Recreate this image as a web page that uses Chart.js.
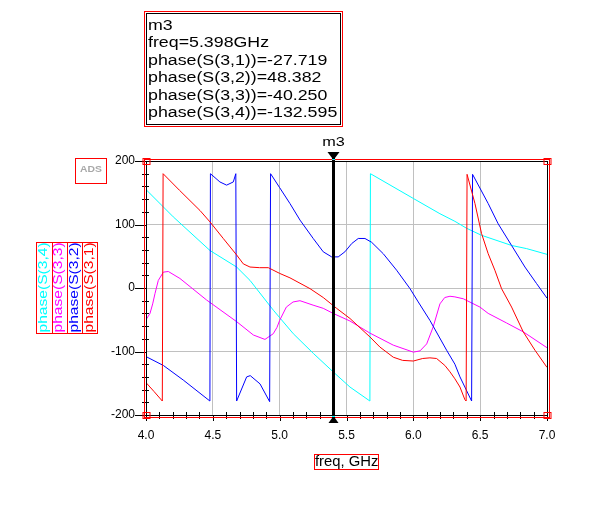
<!DOCTYPE html>
<html>
<head>
<meta charset="utf-8">
<script src="https://cdn.jsdelivr.net/npm/chart.js@4/dist/chart.umd.min.js"></script>
<style>
  html, body { margin: 0; padding: 0; background: #fff; }
  canvas { display: block; }
</style>
</head>
<body>
<canvas id="phase-chart" width="611" height="517"></canvas>
<script>
// phase of S(3,n) vs frequency
var s31Freq  = [4.0, 4.06, 4.122, 4.128, 4.25, 4.404, 4.479, 4.578, 4.678, 4.728, 4.778, 4.85, 4.915, 5.0, 5.077, 5.227, 5.326, 5.426, 5.526, 5.675, 5.75, 5.85, 5.92, 6.0, 6.07, 6.124, 6.174, 6.236, 6.274, 6.311, 6.349, 6.386, 6.395, 6.402, 6.461, 6.51, 6.56, 6.61, 6.66, 6.735, 6.822, 6.91, 7.0];
var s31Phase = [-149, -163, -178, 180, 154, 122, 104, 78, 52, 38, 33, 32, 32, 23, 16, -1, -15, -32, -48, -77, -93, -109, -114, -115, -111, -110, -111, -122, -132, -143, -156, -176, -178, 179, 133, 86, 54, 28, -1, -30, -69, -98, -125];

var s32Freq  = [4.0, 4.13, 4.279, 4.478, 4.482, 4.553, 4.603, 4.653, 4.672, 4.678, 4.753, 4.78, 4.853, 4.925, 4.932, 5.0, 5.077, 5.152, 5.251, 5.326, 5.389, 5.438, 5.488, 5.539, 5.588, 5.638, 5.688, 5.775, 5.875, 5.975, 6.037, 6.124, 6.249, 6.311, 6.349, 6.436, 6.443, 6.56, 6.635, 6.735, 6.835, 6.922, 7.0];
var s32Phase = [-108, -122, -145, -178, 180, 167, 162, 167, 180, -178, -140, -138, -151, -179, 180, 158, 133, 107, 78, 57, 49, 49, 57, 70, 78, 78, 72, 54, 28, -1, -22, -51, -98, -120, -140, -178, 179, 133, 101, 67, 33, 7, -16];

var s33Freq  = [4.0, 4.03, 4.05, 4.067, 4.092, 4.13, 4.167, 4.254, 4.454, 4.678, 4.803, 4.89, 4.952, 4.98, 5.0, 5.05, 5.1, 5.152, 5.25, 5.326, 5.4, 5.526, 5.675, 5.85, 6.0, 6.05, 6.1, 6.149, 6.199, 6.235, 6.274, 6.311, 6.374, 6.498, 6.56, 6.697, 6.822, 7.0];
var s33Phase = [-50, -40, -25, -9, 12, 25, 26, 15, -19, -53, -74, -81, -72, -62, -51, -30, -22, -20, -27, -32, -40, -52, -71, -90, -101, -99, -88, -61, -25, -15, -13, -14, -17, -30, -40, -55, -69, -94];

var s34Freq  = [4.0, 4.204, 4.479, 4.678, 4.778, 4.953, 5.102, 5.252, 5.4, 5.526, 5.675, 5.679, 6.0, 6.199, 6.311, 6.399, 6.51, 6.735, 6.848, 7.0];
var s34Phase = [155, 112, 59, 33, 12, -35, -72, -103, -132, -156, -178, 180, 141, 117, 105, 94, 83, 67, 62, 53];

var seriesNames  = ['phase(S(3,4))', 'phase(S(3,3))', 'phase(S(3,2))', 'phase(S(3,1))'];
var seriesColors = ['#00ffff', '#ff00ff', '#0000ff', '#ff0000'];

var markerFreq = 5.398;
var markerLines = ['m3', 'freq=5.398GHz', 'phase(S(3,1))=-27.719', 'phase(S(3,2))=48.382', 'phase(S(3,3))=-40.250', 'phase(S(3,4))=-132.595'];

var FONT = '"Liberation Sans", Arial, sans-serif';

function pairs(fs, ps) {
  return fs.map(function(f, i) { return { x: f, y: ps[i] }; });
}
function isHalf(v) {
  return Math.abs(v * 2 - Math.round(v * 2)) < 1e-6;
}

// draws a text squeezed vertically like the ADS fonts
function wideText(c, txt, x, y, size, sx, align) {
  c.save();
  c.font = size + 'px ' + FONT;
  c.translate(x, y);
  c.scale(sx, 1);
  c.textAlign = align || 'left';
  c.textBaseline = 'alphabetic';
  c.fillText(txt, 0, 0);
  c.restore();
}

var adsDecor = {
  id: 'adsDecor',
  afterDraw: function(chart) {
    var c = chart.ctx, a = chart.chartArea;
    var xs = chart.scales.x, ys = chart.scales.y;
    c.save();
    c.lineWidth = 1;

    // tick marks
    c.strokeStyle = '#000';
    c.beginPath();
    ys.ticks.forEach(function(t) {
      var y = Math.round(ys.getPixelForValue(t.value)) + 0.5;
      if (t.value % 100 === 0) { c.moveTo(a.left - 11, y); c.lineTo(a.left, y); }
      else { c.moveTo(a.left - 4, y); c.lineTo(a.left + 3, y); }
    });
    xs.ticks.forEach(function(t) {
      var x = Math.round(xs.getPixelForValue(t.value)) + 0.5;
      if (isHalf(t.value)) { c.moveTo(x, a.bottom); c.lineTo(x, a.bottom + 6); }
      else { c.moveTo(x, a.bottom - 3); c.lineTo(x, a.bottom + 4); }
    });
    c.stroke();

    // plot frame: black box and red selection box
    var L = Math.round(a.left) + 0.5, T = Math.round(a.top) + 0.5;
    var R = Math.round(a.right) + 0.5, B = Math.round(a.bottom) + 0.5;
    c.strokeStyle = '#000';
    c.strokeRect(L, T, R - L, B - T);
    c.strokeStyle = '#ff0000';
    c.strokeRect(L - 2, T - 2, R - L + 4, B - T + 4);
    [[L, T], [R, T], [L, B], [R, B]].forEach(function(p) {
      c.strokeRect(p[0] - 3.5, p[1] - 3, 7, 6);
    });

    // marker m3
    var mx = Math.round(xs.getPixelForValue(markerFreq)) + 0.5;
    c.strokeStyle = '#000';
    c.lineWidth = 3;
    c.beginPath();
    c.moveTo(mx, a.top - 8);
    c.lineTo(mx, a.bottom + 7);
    c.stroke();
    c.fillStyle = '#000';
    c.beginPath();
    c.moveTo(mx - 6, a.top - 9); c.lineTo(mx + 6, a.top - 9); c.lineTo(mx, a.top - 1);
    c.closePath(); c.fill();
    c.beginPath();
    c.moveTo(mx - 5, a.bottom + 8); c.lineTo(mx + 5, a.bottom + 8); c.lineTo(mx, a.bottom + 1);
    c.closePath(); c.fill();
    c.fillStyle = '#00ffff';
    c.fillRect(mx - 1.5, a.top - 2, 3, 1);
    c.fillRect(mx - 1.5, a.bottom + 1, 3, 1);
    c.fillStyle = '#000';
    wideText(c, 'm3', mx, a.top - 15, 13, 1.25, 'center');

    // marker readout box
    c.lineWidth = 1;
    c.strokeStyle = '#ff0000';
    c.strokeRect(144.5, 11.5, 198, 115);
    c.strokeStyle = '#000';
    c.strokeRect(146.5, 13.5, 194, 111);
    c.fillStyle = '#000';
    markerLines.forEach(function(s, i) {
      wideText(c, s, 148, 29.5 + i * 17.5, 14, 1.27);
    });

    // rotated trace legend
    var lx = 36.5, ly = 242.5, cw = 15.25, lh = 91;
    c.strokeStyle = '#ff0000';
    c.strokeRect(lx, ly, cw * 4, lh);
    for (var k = 1; k < 4; k++) {
      c.beginPath();
      c.moveTo(Math.round(lx + k * cw) + 0.5, ly);
      c.lineTo(Math.round(lx + k * cw) + 0.5, ly + lh);
      c.stroke();
    }
    c.save();
    c.beginPath();
    c.rect(lx, ly + 0.5, cw * 4, lh - 1);
    c.clip();
    seriesNames.forEach(function(name, i) {
      c.save();
      c.fillStyle = seriesColors[i];
      c.font = '12px ' + FONT;
      c.translate(lx + i * cw + 10.5, ly + lh - 1);
      c.rotate(-Math.PI / 2);
      c.scale(1.3, 1);
      c.textAlign = 'left';
      c.textBaseline = 'alphabetic';
      c.fillText(name, 0, 0);
      c.restore();
    });
    c.restore();

    // ADS tag
    c.strokeStyle = '#ff0000';
    c.strokeRect(75.5, 158.5, 31, 25);
    c.fillStyle = '#a8a8a8';
    c.save();
    c.font = 'bold 9px ' + FONT;
    c.translate(91, 172);
    c.scale(1.15, 1);
    c.textAlign = 'center';
    c.fillText('ADS', 0, 0);
    c.restore();

    // x axis title
    c.strokeStyle = '#ff0000';
    c.strokeRect(314.5, 454.5, 64, 15);
    c.fillStyle = '#000';
    wideText(c, 'freq, GHz', 315, 465.5, 14, 1.06);

    c.restore();
  }
};

var ctx = document.getElementById('phase-chart').getContext('2d');
var chart = new Chart(ctx, {
  type: 'scatter',
  data: {
    datasets: [
      { label: seriesNames[3], data: pairs(s31Freq, s31Phase), borderColor: seriesColors[3] },
      { label: seriesNames[2], data: pairs(s32Freq, s32Phase), borderColor: seriesColors[2] },
      { label: seriesNames[1], data: pairs(s33Freq, s33Phase), borderColor: seriesColors[1] },
      { label: seriesNames[0], data: pairs(s34Freq, s34Phase), borderColor: seriesColors[0] }
    ]
  },
  options: {
    responsive: false,
    animation: false,
    showLine: true,
    elements: {
      point: { radius: 0 },
      line: { borderWidth: 1, tension: 0, fill: false }
    },
    layout: { padding: { left: 100, right: 64, top: 161, bottom: 72 } },
    plugins: { legend: { display: false }, tooltip: { enabled: false } },
    scales: {
      x: {
        type: 'linear',
        min: 4, max: 7,
        afterFit: function(s) { s.height = 30; },
        border: { display: false },
        grid: {
          drawTicks: false,
          color: function(g) {
            var v = g.tick ? g.tick.value : 0;
            return (isHalf(v) && v > 4.01 && v < 6.99) ? '#c0c0c0' : 'rgba(0,0,0,0)';
          }
        },
        ticks: {
          stepSize: 0.1,
          autoSkip: false,
          maxRotation: 0,
          padding: 13,
          color: '#000',
          font: { family: FONT, size: 12 },
          callback: function(v) { return isHalf(v) ? v.toFixed(1) : ''; }
        }
      },
      y: {
        min: -200, max: 200,
        afterFit: function(s) { s.width = 46; },
        border: { display: false },
        grid: {
          drawTicks: false,
          color: function(g) {
            var v = g.tick ? g.tick.value : 0;
            return (v % 100 === 0 && Math.abs(v) < 200) ? '#c0c0c0' : 'rgba(0,0,0,0)';
          }
        },
        ticks: {
          stepSize: 20,
          autoSkip: false,
          padding: 11,
          color: '#000',
          font: { family: FONT, size: 12 },
          callback: function(v) { return v % 100 === 0 ? v : ''; }
        }
      }
    }
  },
  plugins: [adsDecor]
});
</script>
</body>
</html>
